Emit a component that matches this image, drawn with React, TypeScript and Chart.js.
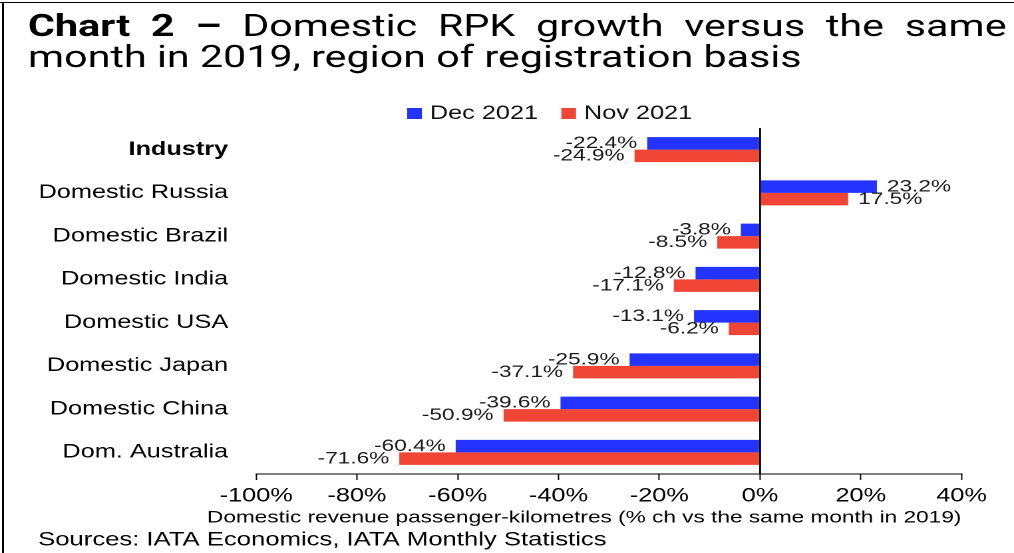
import React, { useEffect, useRef } from 'react';
import { Chart, registerables } from 'chart.js';

Chart.register(...registerables);

// ---- data ----
const categories = [
  'Industry',
  'Domestic Russia',
  'Domestic Brazil',
  'Domestic India',
  'Domestic USA',
  'Domestic Japan',
  'Domestic China',
  'Dom. Australia',
];
const dec2021 = [-22.4, 23.2, -3.8, -12.8, -13.1, -25.9, -39.6, -60.4];
const nov2021 = [-24.9, 17.5, -8.5, -17.1, -6.2, -37.1, -50.9, -71.6];
const seriesNames = ['Dec 2021', 'Nov 2021'];
const seriesColors = ['#2433FF', '#F04535'];
const xMin = -100;
const xMax = 40;
const xStep = 20;
const titleBold = 'Chart 2 –';
const titleLine1 = 'Domestic RPK growth versus the same';
const titleLine2 = 'month in 2019, region of registration basis';
const axisTitle = 'Domestic revenue passenger-kilometres (% ch vs the same month in 2019)';
const sourceText = 'Sources: IATA Economics, IATA Monthly Statistics';

// ---- layout ----
const W = 762;
const H = 553;
const SX = 1014 / W;
const FONT = '"Liberation Sans", Arial, sans-serif';
const TFONT = 'Roboto, "Liberation Sans", sans-serif';

const decor = {
  id: 'decor',
  afterDraw(chart: any) {
    const ctx = chart.ctx as CanvasRenderingContext2D;
    ctx.save();
    ctx.fillStyle = '#000';
    ctx.textAlign = 'left';
    ctx.textBaseline = 'alphabetic';

    // Title line 1 (justified)
    const words = [
      ...titleBold.split(' ').map((w) => ({ w, b: true })),
      ...titleLine1.split(' ').map((w) => ({ w, b: false })),
    ];
    const tf = (b: boolean) => `${b ? 'bold ' : ''}31px ${TFONT}`;
    const widths = words.map((o) => {
      ctx.font = tf(o.b);
      return ctx.measureText(o.w).width;
    });
    const L = 21;
    const R = 756.4;
    const sum = widths.reduce((a, b) => a + b, 0);
    const gap = (R - L - sum) / (words.length - 1);
    let x = L;
    words.forEach((o, i) => {
      ctx.font = tf(o.b);
      ctx.fillText(o.w, x, 36);
      x += widths[i] + gap;
    });
    ctx.font = tf(false);
    ctx.fillText(titleLine2, L, 67);

    // Legend
    ctx.font = `19px ${FONT}`;
    ctx.textBaseline = 'middle';
    let lx = 306;
    chart.data.datasets.forEach((ds: any) => {
      ctx.fillStyle = ds.backgroundColor;
      ctx.fillRect(lx, 108, 11, 11);
      ctx.fillStyle = '#111';
      ctx.fillText(ds.label, lx + 17, 114);
      lx += 17 + ctx.measureText(ds.label).width + 17.5;
    });

    // Bar value labels
    ctx.font = `17px ${FONT}`;
    ctx.fillStyle = '#1a1a1a';
    chart.data.datasets.forEach((ds: any, di: number) => {
      const meta = chart.getDatasetMeta(di);
      meta.data.forEach((el: any, i: number) => {
        const v = ds.data[i] as number;
        const label = v.toFixed(1) + '%';
        if (v < 0) {
          ctx.textAlign = 'right';
          ctx.fillText(label, el.x - 7.5, el.y);
        } else {
          ctx.textAlign = 'left';
          ctx.fillText(label, el.x + 7.5, el.y);
        }
      });
    });

    // Axis title
    ctx.fillStyle = '#000';
    ctx.font = `17px ${FONT}`;
    ctx.textAlign = 'center';
    ctx.fillText(axisTitle, 439, 518);

    // Sources
    ctx.font = `19.3px ${FONT}`;
    ctx.textAlign = 'left';
    ctx.fillText(sourceText, 28.6, 540);
    ctx.restore();
  },
};

export default function App() {
  const ref = useRef<HTMLCanvasElement | null>(null);

  useEffect(() => {
    if (!ref.current) return;
    const chart = new Chart(ref.current, {
      type: 'bar',
      data: {
        labels: categories,
        datasets: [
          { label: seriesNames[0], data: dec2021, backgroundColor: seriesColors[0] },
          { label: seriesNames[1], data: nov2021, backgroundColor: seriesColors[1] },
        ],
      },
      options: {
        indexAxis: 'y',
        responsive: false,
        animation: false,
        devicePixelRatio: 2,
        datasets: { bar: { barPercentage: 1, categoryPercentage: 0.58 } },
        layout: { padding: { top: 128, right: 39.4, bottom: 0, left: 0 } },
        plugins: {
          legend: { display: false },
          title: { display: false },
          tooltip: { enabled: false },
        },
        scales: {
          x: {
            type: 'linear',
            min: xMin,
            max: xMax,
            ticks: {
              stepSize: xStep,
              callback: (v: any) => `${v}%`,
              font: { family: FONT, size: 19 },
              color: '#000',
              padding: 5,
              maxRotation: 0,
              autoSkip: false,
            },
            grid: {
              color: (c: any) => (c.tick && c.tick.value === 0 ? '#000' : 'rgba(0,0,0,0)'),
              lineWidth: 1.4,
              drawOnChartArea: true,
              drawTicks: true,
              tickLength: 6,
              tickColor: '#000',
              tickWidth: 1,
            },
            border: { display: true, color: '#000', width: 1 },
            afterFit: (s: any) => {
              s.height = 79;
            },
          },
          y: {
            grid: { display: false },
            border: { display: false },
            ticks: {
              font: (c: any) => ({ family: FONT, size: 19, weight: c.index === 0 ? 'bold' : 'normal' }),
              color: '#000',
              padding: 13,
            },
            afterFit: (s: any) => {
              s.width = 192.5;
            },
          },
        },
      } as any,
      plugins: [decor],
    });
    return () => chart.destroy();
  }, []);

  return (
    <div style={{ position: 'fixed', left: 0, top: 0, width: 1014, height: 553, background: '#fff', overflow: 'hidden' }}>
      <div
        style={{
          position: 'absolute',
          left: 0,
          top: 0,
          width: W,
          height: H,
          transform: `scaleX(${SX})`,
          transformOrigin: '0 0',
        }}
      >
        <canvas ref={ref} width={W} height={H} style={{ width: W, height: H, display: 'block' }} />
      </div>
      <div style={{ position: 'absolute', left: 0, top: 1.5, width: 1014, height: 1.5, background: '#000' }} />
      <div style={{ position: 'absolute', left: 2, top: 1.5, width: 1.5, height: 552, background: '#000' }} />
    </div>
  );
}
